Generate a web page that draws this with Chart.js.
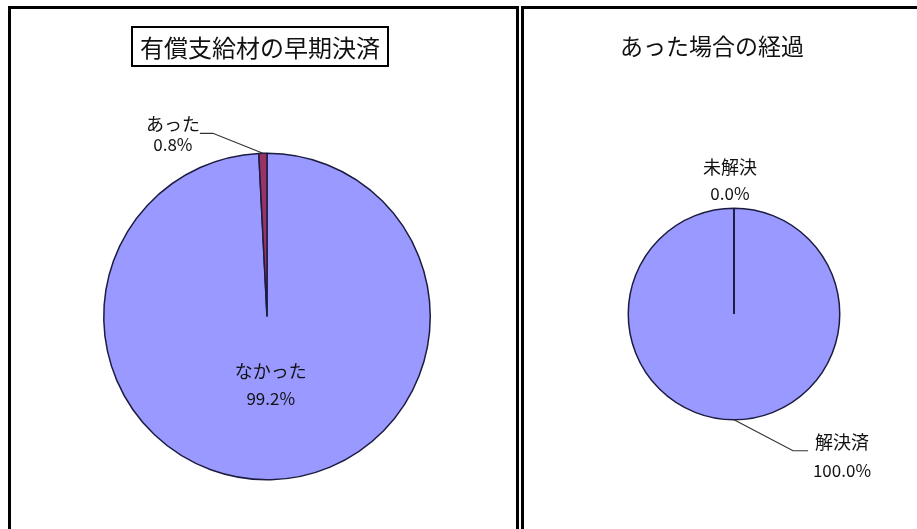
<!DOCTYPE html>
<html>
<head>
<meta charset="utf-8">
<script src="https://cdn.jsdelivr.net/npm/chart.js@4.4.1/dist/chart.umd.min.js"></script>
<style>
  body { margin:0; background:#fff; width:917px; height:529px; overflow:hidden; position:relative; font-family:"Noto Sans CJK JP", sans-serif; }
  .panel { position:absolute; top:6px; height:540px; border:3px solid #000; box-sizing:border-box; background:#fff; }
  .panel canvas { position:absolute; left:0; top:0; }
  .ttl { position:absolute; white-space:nowrap; color:#111; line-height:1; }
</style>
</head>
<body>
<div class="panel" id="p1" style="left:8px; width:511px;">
  <canvas id="c1" width="505" height="520" style="width:505px;height:520px"></canvas>
</div>
<div class="panel" id="p2" style="left:521px; width:400px;">
  <canvas id="c2" width="393" height="520" style="width:393px;height:520px"></canvas>
</div>
<div class="ttl" style="left:131px; top:26px; font-size:24px; border:2px solid #000; padding:7px 7px 6px 7px;">有償支給材の早期決済</div>
<div class="ttl" style="left:620px; top:34px; font-size:23px;">あった場合の経過</div>
<script>
// 有償支給材の早期決済
var labels1 = ['なかった', 'あった'];
var values1 = [99.2, 0.8];
var colors1 = ['#9999FF', '#993366'];

// あった場合の経過
var labels2 = ['解決済', '未解決'];
var values2 = [100.0, 0.0];
var colors2 = ['#9999FF', '#993366'];

var nameFont = '18px "Noto Sans CJK JP", sans-serif';
var pctFont = '17px "Noto Sans CJK JP", sans-serif';
var edgeColor = '#1c1c40';

// draws category + percent labels next to each arc, with leader lines
var pieLabels = {
  id: 'pieLabels',
  afterDatasetsDraw: function(chart, args, opts){
    var ctx = chart.ctx;
    var meta = chart.getDatasetMeta(0);
    var data = chart.data.datasets[0].data;
    var total = data.reduce(function(a,b){return a+b;}, 0);
    ctx.save();
    // line from center for empty slices (library skips zero arcs)
    meta.data.forEach(function(el, i){
      if(data[i] === 0){
        ctx.strokeStyle = edgeColor;
        ctx.lineWidth = 1.8;
        ctx.beginPath();
        ctx.moveTo(el.x, el.y);
        ctx.lineTo(el.x + el.outerRadius*Math.cos(el.startAngle), el.y + el.outerRadius*Math.sin(el.startAngle));
        ctx.stroke();
      }
    });
    ctx.textAlign = 'center';
    ctx.textBaseline = 'middle';
    meta.data.forEach(function(el, i){
      var spec = opts.specs[i];
      var mid = (el.startAngle + el.endAngle)/2;
      var pct = (data[i]/total*100).toFixed(1) + '%';
      var ax, ay;
      if(spec.inside){
        ax = el.x + el.outerRadius*spec.dist*Math.cos(mid);
        ay = el.y + el.outerRadius*spec.dist*Math.sin(mid);
      }else{
        ax = el.x + el.outerRadius*Math.cos(mid);
        ay = el.y + el.outerRadius*Math.sin(mid);
      }
      if(spec.leader){
        ctx.strokeStyle = '#333';
        ctx.lineWidth = 1.2;
        ctx.beginPath();
        ctx.moveTo(ax, ay);
        spec.leader.forEach(function(p){ ctx.lineTo(ax+p[0], ay+p[1]); });
        ctx.stroke();
      }
      ctx.fillStyle = '#111';
      ctx.font = nameFont;
      ctx.fillText(chart.data.labels[i], ax+spec.text[0], ay+spec.text[1]);
      ctx.font = pctFont;
      ctx.fillText(pct, ax+spec.text[0], ay+spec.text[2]);
    });
    ctx.restore();
  }
};

function pieOptions(pad, specs){
  return {
    responsive: false,
    animation: false,
    layout: { padding: pad },
    plugins: {
      legend: { display: false },
      tooltip: { enabled: false },
      title: { display: false },
      pieLabels: { specs: specs }
    }
  };
}

new Chart(document.getElementById('c1'), {
  type: 'pie',
  data: { labels: labels1, datasets: [{ data: values1, backgroundColor: colors1, borderColor: edgeColor, borderWidth: 1.5 }] },
  options: pieOptions({left:92, right:85, top:143.5, bottom:48.5}, [
    { inside: true, dist: 0.42, text: [2, -14, 14] },
    { leader: [[-50,-20],[-63,-20]], text: [-90, -29, -9] }
  ]),
  plugins: [pieLabels]
});

new Chart(document.getElementById('c2'), {
  type: 'pie',
  data: { labels: labels2, datasets: [{ data: values2, backgroundColor: colors2, borderColor: edgeColor, borderWidth: 1.5 }] },
  options: pieOptions({left:103.5, right:76.5, top:198.5, bottom:108.5}, [
    { leader: [[59,31],[74,31]], text: [108, 22, 51] },
    { text: [-4, -41, -15] }
  ]),
  plugins: [pieLabels]
});
</script>
</body>
</html>
